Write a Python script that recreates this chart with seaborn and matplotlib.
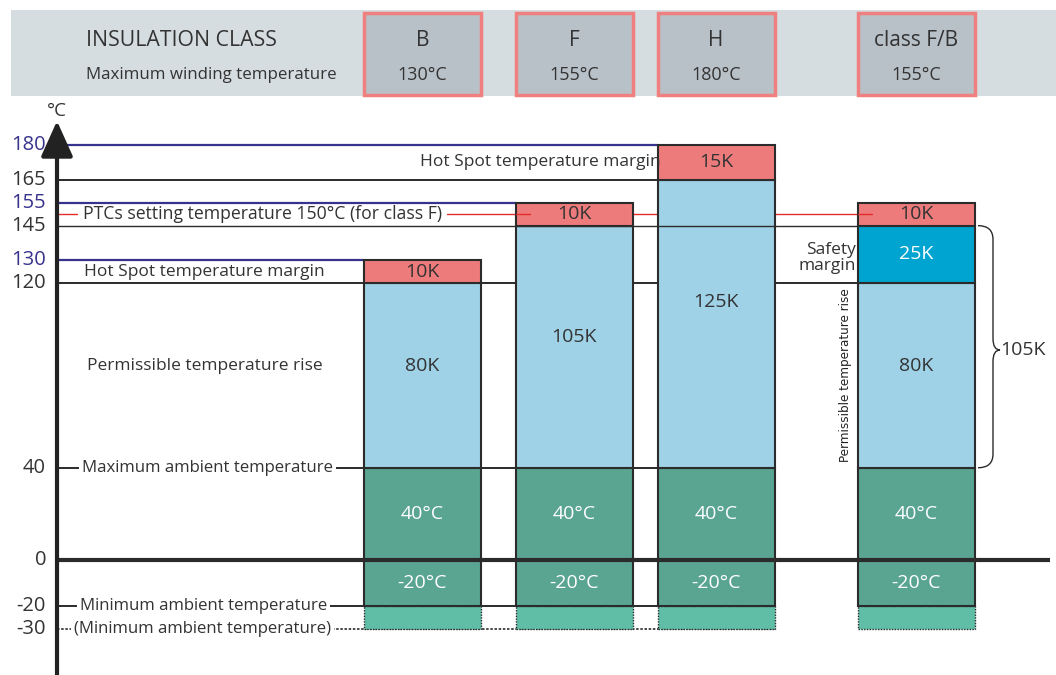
import matplotlib.pyplot as plt
from matplotlib.patches import Rectangle, PathPatch
from matplotlib.path import Path
import seaborn as sns

# --- data ---
classes = ["B", "F", "H", "class F/B"]
winding_temp = [130, 155, 180, 155]
temp_rise = [80, 105, 125, 80]
safety_margin = [0, 0, 0, 25]
hot_spot = [10, 10, 15, 10]
ambient_max = 40
ambient_min = -20
ambient_min_ext = -30
ptc_temp = 150
axis_ticks = [180, 165, 155, 145, 130, 120, 40, 0, -20, -30]
navy_ticks = [180, 155, 130]
brace_total = 105

# --- layout (pixel based) ---
bar_x = [422.5, 574, 716, 916]
bar_w = 117
Y0, SCALE = 560, 2.306          # pixel row of 0 degC, pixels per degC
rise_label_y = [366, 337, 302, 366]


def ypx(p):
    # pixel row -> data value
    return (Y0 - p) / SCALE


GREEN = "#5aa592"
TEAL = "#60bea6"
LBLUE = "#9fd2e7"
RED = "#ee7b7b"
BLUE = "#00a4d0"
EDGE = "#2b2b2b"
NAVY = "#37338c"
TXT = "#333333"

sns.set_theme(style="white")
plt.rcParams['font.family'] = ['Open Sans', 'DejaVu Sans']

fig = plt.figure(figsize=(10.56, 6.75), dpi=100)
ax = fig.add_axes([0, 0, 1, 1])
ax.set_xlim(0, 1056)
ax.set_ylim(ypx(675), ypx(0))
ax.set_axis_off()

FS = 12.5
FS_AMB = 12.1

# --- header band ---
ax.add_patch(Rectangle((11, ypx(96)), 1045, ypx(10) - ypx(96), fc="#d5dde0", ec="none"))
ax.text(86, ypx(41), "INSULATION CLASS", fontsize=15.3, color=TXT, va="center")
ax.text(86, ypx(75), "Maximum winding temperature", fontsize=12.2, color=TXT, va="center")
for x, c, t in zip(bar_x, classes, winding_temp):
    ax.add_patch(Rectangle((x - bar_w / 2, ypx(95)), bar_w, ypx(13) - ypx(95),
                           fc="#b9c1c8", ec="#f07f7f", lw=2.5))
    ax.text(x, ypx(41), c, fontsize=15, color=TXT, ha="center", va="center")
    ax.text(x, ypx(75), f"{t}°C", fontsize=13, color=TXT, ha="center", va="center")

# --- reference lines ---
ax.plot([57, 657], [180, 180], color=NAVY, lw=1.6, zorder=1)
ax.plot([57, 657], [165, 165], color=EDGE, lw=1.4, zorder=1)
ax.plot([57, 516], [155, 155], color=NAVY, lw=1.6, zorder=1)
ax.plot([57, 858], [145, 145], color=EDGE, lw=1.0, zorder=4)
ax.plot([57, 363], [130, 130], color=NAVY, lw=1.6, zorder=1)
ax.plot([57, 858], [120, 120], color=EDGE, lw=1.4, zorder=1)
ax.plot([57, 775], [ambient_max] * 2, color=EDGE, lw=1.4, zorder=1)
ax.plot([57, 775], [ambient_min] * 2, color=EDGE, lw=1.4, zorder=1)
ax.plot([57, 775], [ambient_min_ext] * 2, color=EDGE, lw=1.2, ls=(0, (1.5, 1)), zorder=1)

# PTC line
ax.plot([57, 77], [ptc_temp] * 2, color="#e32b2b", lw=1.0, zorder=1)
ax.plot([447, 872], [ptc_temp] * 2, color="#e32b2b", lw=1.0, zorder=1)
ax.plot([516, 530], [ptc_temp] * 2, color="#e32b2b", lw=1.0, zorder=4)
ax.plot([858, 872], [ptc_temp] * 2, color="#e32b2b", lw=1.0, zorder=4)

# --- bars ---
for i, x in enumerate(bar_x):
    kw = dict(width=bar_w, edgecolor=EDGE, linewidth=1.5, zorder=2)
    ax.bar(x, ambient_min_ext - ambient_min, bottom=ambient_min, color=TEAL,
           width=bar_w, edgecolor=EDGE, linewidth=1.0, linestyle=(0, (1, 1)), zorder=2)
    ax.bar(x, ambient_min, bottom=0, color=GREEN, **kw)
    ax.bar(x, ambient_max, bottom=0, color=GREEN, **kw)
    ax.bar(x, temp_rise[i], bottom=ambient_max, color=LBLUE, **kw)
    top = ambient_max + temp_rise[i]
    if safety_margin[i]:
        ax.bar(x, safety_margin[i], bottom=top, color=BLUE, **kw)
        ax.text(x, top + safety_margin[i] / 2, f"{safety_margin[i]}K", color="white",
                fontsize=14, ha="center", va="center", zorder=5)
        top += safety_margin[i]
    ax.bar(x, hot_spot[i], bottom=winding_temp[i] - hot_spot[i], color=RED, **kw)

    ax.text(x, winding_temp[i] - hot_spot[i] / 2, f"{hot_spot[i]}K", color=TXT,
            fontsize=14, ha="center", va="center", zorder=5)
    ax.text(x, ypx(rise_label_y[i]), f"{temp_rise[i]}K", color=TXT,
            fontsize=14, ha="center", va="center", zorder=5)
    ax.text(x, ambient_max / 2, f"{ambient_max}°C", color="white",
            fontsize=14, ha="center", va="center", zorder=5)
    ax.text(x, ambient_min / 2, f"{ambient_min}°C", color="white",
            fontsize=14, ha="center", va="center", zorder=5)

# zero line
ax.plot([57, 1050], [0, 0], color=EDGE, lw=3, zorder=4, solid_capstyle="butt")

# --- y axis with arrow ---
ax.annotate("", xy=(57, ypx(121)), xytext=(57, ypx(675)),
            arrowprops=dict(arrowstyle="-|>,head_length=1.0,head_width=0.45",
                            lw=3, color="#222222", mutation_scale=22, shrinkA=0, shrinkB=0),
            zorder=6)
ax.text(57, ypx(111), "°C", fontsize=13.5, color=TXT, ha="center", va="center")
for t in axis_ticks:
    ax.text(46, t, str(t), fontsize=14.5, ha="right", va="center",
            color=NAVY if t in navy_ticks else TXT)

# --- annotations ---
box = dict(fc="white", ec="none", pad=2)
ax.text(83, ptc_temp, "PTCs setting temperature 150°C (for class F)", fontsize=12.7,
        color=TXT, va="center", zorder=5)
ax.text(84, 125, "Hot Spot temperature margin", fontsize=FS, color=TXT, va="center", zorder=5)
ax.text(661, 172.5, "Hot Spot temperature margin", fontsize=FS, color=TXT,
        ha="right", va="center", zorder=5)
ax.text(87, ypx(366), "Permissible temperature rise", fontsize=FS, color=TXT, va="center")
ax.text(82, ambient_max, "Maximum ambient temperature", fontsize=FS_AMB, color=TXT,
        va="center", zorder=5, bbox=box)
ax.text(80, ambient_min, "Minimum ambient temperature", fontsize=FS_AMB, color=TXT,
        va="center", zorder=5, bbox=box)
ax.text(74, ambient_min_ext, "(Minimum ambient temperature)", fontsize=FS_AMB, color=TXT,
        va="center", zorder=5, bbox=box)
ax.text(856, ypx(258), "Safety\nmargin", fontsize=FS, color=TXT, ha="right",
        va="center", multialignment="right", linespacing=1.05, zorder=5)
ax.text(845, ypx(375), "Permissible temperature rise", fontsize=9.5, color="#222222",
        rotation=90, ha="center", va="center",
        family="DejaVu Sans", fontstretch="condensed")

# brace for 105K
top_b, bot_b = 145, ambient_max
mid = ypx(350)
verts = [(978, top_b), (993, top_b), (993, top_b - 6), (993, mid + 5),
         (993, mid), (1000, mid), (993, mid), (993, mid - 5),
         (993, bot_b + 6), (993, bot_b), (978, bot_b)]
codes = [Path.MOVETO, Path.CURVE3, Path.CURVE3, Path.LINETO,
         Path.CURVE3, Path.CURVE3, Path.CURVE3, Path.CURVE3,
         Path.LINETO, Path.CURVE3, Path.CURVE3]
ax.add_patch(PathPatch(Path(verts, codes), fc="none", ec=EDGE, lw=1.0))
ax.text(1000, mid, f"{brace_total}K", fontsize=14, color=TXT, va="center")

plt.savefig("out.png", dpi=100)
